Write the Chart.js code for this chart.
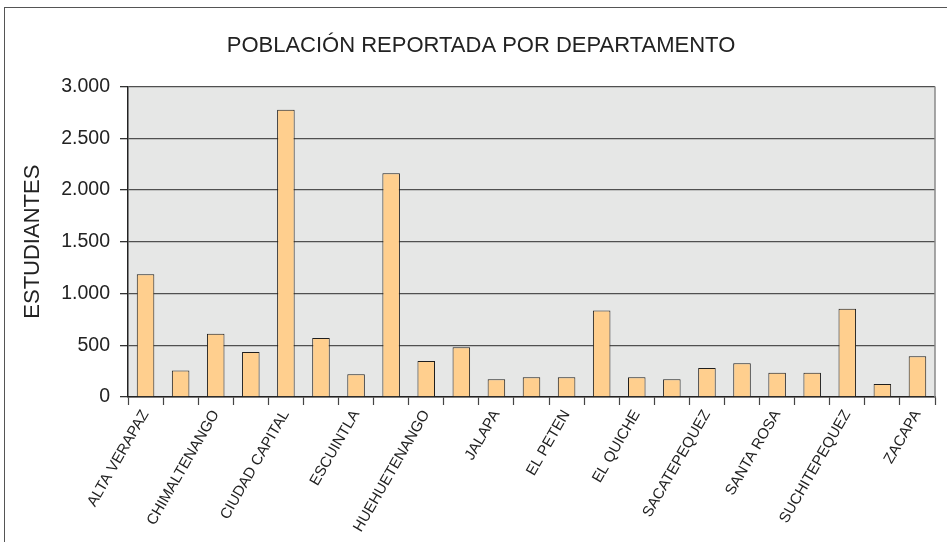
<!DOCTYPE html>
<html>
<head>
<meta charset="utf-8">
<script src="https://cdn.jsdelivr.net/npm/chart.js@4.4.1/dist/chart.umd.min.js"></script>
<style>
  html, body { margin: 0; padding: 0; background: #fff; }
  #wrap { position: relative; width: 947px; height: 542px; }
  #frame { position: absolute; left: 4px; top: 7px; right: 0; bottom: 0;
           border-top: 1px solid #555; border-left: 1px solid #555; }
  canvas { position: absolute; left: 0; top: 0; }
</style>
</head>
<body>
<div id="wrap">
  <div id="frame"></div>
  <canvas id="chart" width="947" height="542"></canvas>
</div>
<script>
// Departamentos (se muestra una etiqueta de cada dos, como en el original)
const departamentos = [
    'ALTA VERAPAZ', 'BAJA VERAPAZ', 'CHIMALTENANGO', 'CHIQUIMULA', 'CIUDAD CAPITAL',
    'EL PROGRESO', 'ESCUINTLA', 'GUATEMALA', 'HUEHUETENANGO', 'IZABAL',
    'JALAPA', 'JUTIAPA', 'EL PETEN', 'QUETZALTENANGO', 'EL QUICHE',
    'RETALHULEU', 'SACATEPEQUEZ', 'SAN MARCOS', 'SANTA ROSA', 'SOLOLA',
    'SUCHITEPEQUEZ', 'TOTONICAPAN', 'ZACAPA'
];
const estudiantes = [
    1185, 255, 610, 435, 2775,
    570, 220, 2160, 347, 480,
    172, 190, 190, 835, 190,
    172, 280, 325, 235, 235,
    852, 125, 393
];
const yTicks = [0, 500, 1000, 1500, 2000, 2500, 3000];

const fuente = "'Liberation Sans', Arial, sans-serif";

// fondo gris del area de trazado y borde derecho
const plotBg = {
    id: 'plotBg',
    beforeDraw(chart) {
        const { ctx, chartArea: a } = chart;
        ctx.save();
        ctx.fillStyle = '#e6e7e6';
        ctx.fillRect(a.left, a.top, a.right - a.left, a.bottom - a.top);
        ctx.restore();
    },
    afterDraw(chart) {
        const { ctx, chartArea: a } = chart;
        ctx.save();
        ctx.strokeStyle = '#8a8a8a';
        ctx.lineWidth = 1.5;
        ctx.beginPath();
        ctx.moveTo(a.right, a.top);
        ctx.lineTo(a.right, a.bottom);
        ctx.stroke();
        ctx.restore();
    }
};

const ctx = document.getElementById('chart').getContext('2d');
new Chart(ctx, {
    type: 'bar',
    data: {
        labels: departamentos,
        datasets: [{
            data: estudiantes,
            backgroundColor: '#ffcf8e',
            borderColor: '#1e1e1e',
            borderWidth: 1,
            barPercentage: 0.5,
            categoryPercentage: 1.0
        }]
    },
    options: {
        responsive: false,
        animation: false,
        layout: { padding: { left: 27, right: 12, top: 0, bottom: 0 } },
        plugins: {
            legend: { display: false },
            tooltip: { enabled: false },
            title: {
                display: true,
                text: 'POBLACIÓN REPORTADA POR DEPARTAMENTO',
                color: '#222',
                font: { family: fuente, size: 22, weight: 'normal' },
                padding: { top: 33, bottom: 27 }
            }
        },
        scales: {
            x: {
                grid: {
                    offset: true,
                    drawOnChartArea: false,
                    drawTicks: true,
                    tickLength: 8,
                    tickColor: '#444',
                    tickWidth: 1.2
                },
                border: { color: '#222', width: 1.5 },
                ticks: {
                    autoSkip: false,
                    maxRotation: 60,
                    minRotation: 60,
                    padding: 2,
                    color: '#222',
                    font: { family: fuente, size: 15 },
                    callback: function(v, i) { return i % 2 === 0 ? departamentos[i] : ''; }
                },
                afterFit: function(s) { s.height = 145; }
            },
            y: {
                min: 0,
                max: 3000,
                afterBuildTicks: function(s) { s.ticks = yTicks.map(v => ({ value: v })); },
                grid: {
                    color: '#505050',
                    lineWidth: 1.3,
                    drawTicks: true,
                    tickLength: 8,
                    tickColor: '#333'
                },
                border: { color: '#222', width: 1.5 },
                ticks: {
                    padding: 10,
                    color: '#222',
                    font: { family: fuente, size: 19.5 },
                    callback: function(v) { return v.toLocaleString('de-DE'); }
                },
                title: {
                    display: true,
                    text: 'ESTUDIANTES',
                    color: '#222',
                    font: { family: fuente, size: 22 },
                    padding: { top: -7, bottom: 0 }
                },
                afterFit: function(s) { s.width = 101; }
            }
        }
    },
    plugins: [plotBg]
});
</script>
</body>
</html>
